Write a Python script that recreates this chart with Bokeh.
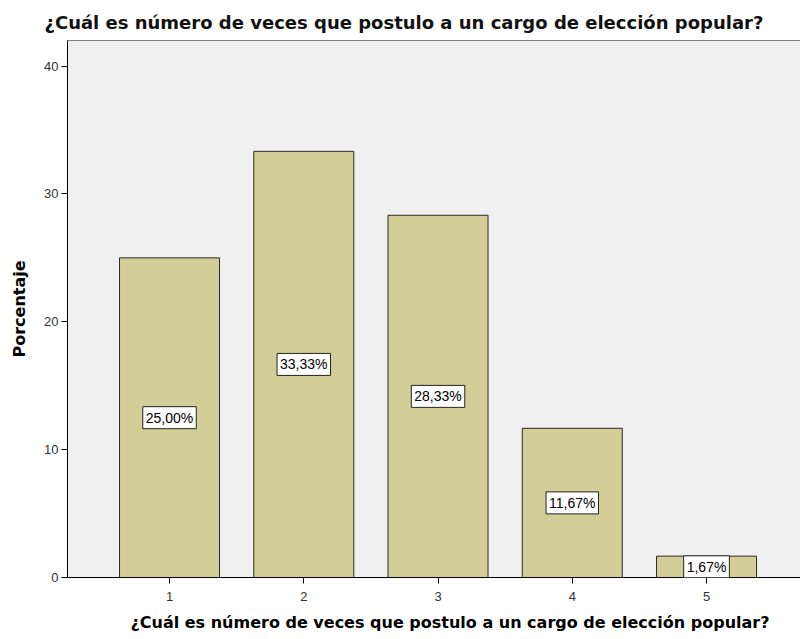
from bokeh.plotting import figure
from bokeh.models import (ColumnDataSource, Range1d, Label, FixedTicker, LinearAxis, Title)
from bokeh.embed import file_html
from bokeh.resources import INLINE

# data
categories = [1, 2, 3, 4, 5]
percentages = [25.00, 33.33, 28.33, 11.67, 1.67]
labels = ["25,00%", "33,33%", "28,33%", "11,67%", "1,67%"]
y_ticks = [0, 10, 20, 30, 40]
title_text = "¿Cuál es número de veces que postulo a un cargo de elección popular?"
y_title = "Porcentaje"

src = ColumnDataSource(dict(x=categories, top=percentages))

p = figure(width=800, height=639, output_backend="svg", toolbar_location=None,
           x_range=Range1d(0.24, 5.70), y_range=Range1d(0, 42.0),
           min_border_left=67, min_border_right=0, min_border_top=40, min_border_bottom=62)

p.background_fill_color = "#F0F0F0"
p.border_fill_color = "white"
p.outline_line_color = None
p.grid.visible = False

p.vbar(x="x", top="top", width=0.745, bottom=0, source=src,
       fill_color="#D3CE97", line_color="#2b2b2b", line_width=1)

for c, v, t in zip(categories, percentages, labels):
    p.add_layout(Label(x=c, y=v / 2, text=t, text_align="center", text_baseline="middle",
                       text_font="Liberation Sans", text_font_size="14px", text_color="black",
                       background_fill_color="white", border_line_color="#222222",
                       border_line_width=1, padding=3))

# axes
p.xaxis.ticker = FixedTicker(ticks=categories)
p.yaxis.ticker = FixedTicker(ticks=y_ticks)
for ax in (p.xaxis[0], p.yaxis[0]):
    ax.axis_line_color = "black"
    ax.axis_line_width = 1
    ax.major_tick_line_color = "black"
    ax.major_tick_in = 0
    ax.major_tick_out = 6
    ax.minor_tick_line_color = None
    ax.major_label_text_font = "Liberation Sans"
    ax.major_label_text_font_size = "13px"
    ax.major_label_text_color = "#333333"
    ax.major_label_standoff = 3
p.xaxis.major_label_standoff = 8

p.yaxis.axis_label = y_title
p.yaxis.axis_label_text_font = "DejaVu Sans"
p.yaxis.axis_label_text_font_style = "bold"
p.yaxis.axis_label_text_font_size = "16px"
p.yaxis.axis_label_text_color = "black"
p.yaxis.axis_label_standoff = 12

# top border line
top_ax = LinearAxis(axis_line_color="#808080", major_tick_line_color=None, minor_tick_line_color=None,
                    major_label_text_font_size="0px", ticker=FixedTicker(ticks=[]))
p.add_layout(top_ax, "above")

# titles
p.title.text = title_text
p.title.align = "left"
p.title.offset = -23
p.title.text_font = "DejaVu Sans"
p.title.text_font_size = "18px"
p.title.text_font_style = "bold"
p.title.text_color = "#111111"
p.title.standoff = 15

xt = Title(text=title_text, align="left", offset=63, text_font="DejaVu Sans",
           text_font_size="16px", text_font_style="bold", text_color="black", standoff=15)
p.add_layout(xt, "below")

open("out.html", "w").write(file_html(p, INLINE))
